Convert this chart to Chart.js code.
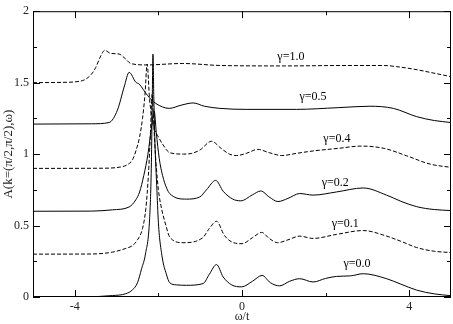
<!DOCTYPE html>
<html>
<head>
<meta charset="utf-8">
<script src="https://cdn.jsdelivr.net/npm/chart.js@4.4.1/dist/chart.umd.min.js"></script>
<style>
  body { margin: 0; background: #fff; }
</style>
</head>
<body>
<canvas id="spec" width="453" height="324"></canvas>
<script>
// omega/t samples and A(k,omega), one pair per gamma
let w00 = [-5, -3.8, -3.1, -2.78, -2.62, -2.5, -2.4, -2.31, -2.21, -2.17, -2.15, -2.13, -2.11, -2.08, -2.04, -2.0, -1.91, -1.81, -1.73, -1.57, -1.33, -0.93, -0.78, -0.61, -0.45, -0.25, -0.01, 0.25, 0.48, 0.68, 0.9, 1.14, 1.38, 1.7, 2.0, 2.26, 2.6, 2.9, 3.46, 3.8, 4.18, 4.6, 5];
let a00 = [0, 0.001, 0.01, 0.023, 0.05, 0.1, 0.2, 0.3, 0.55, 0.9, 1.3, 1.70, 1.4, 1.05, 0.78, 0.52, 0.28, 0.16, 0.10, 0.085, 0.082, 0.094, 0.16, 0.227, 0.14, 0.085, 0.071, 0.11, 0.151, 0.1, 0.078, 0.11, 0.128, 0.105, 0.13, 0.144, 0.148, 0.163, 0.128, 0.09, 0.048, 0.022, 0.009];

let w01 = [-5, -3.6, -3.1, -2.78, -2.62, -2.5, -2.38, -2.3, -2.24, -2.19, -2.15, -2.11, -2.06, -2.0, -1.94, -1.82, -1.73, -1.41, -0.94, -0.78, -0.61, -0.42, -0.2, 0.0, 0.25, 0.47, 0.65, 0.85, 1.1, 1.38, 1.7, 2.26, 2.9, 3.46, 3.8, 4.18, 4.6, 5];
let a01 = [0.3, 0.301, 0.314, 0.34, 0.36, 0.40, 0.48, 0.62, 0.85, 1.15, 1.42, 1.2, 0.95, 0.75, 0.64, 0.5, 0.42, 0.38, 0.415, 0.48, 0.53, 0.43, 0.38, 0.373, 0.415, 0.452, 0.41, 0.38, 0.4, 0.426, 0.41, 0.438, 0.465, 0.426, 0.39, 0.346, 0.32, 0.311];

let w02 = [-5, -3.6, -3.1, -2.7, -2.54, -2.45, -2.35, -2.25, -2.16, -2.1, -2.05, -1.98, -1.9, -1.8, -1.73, -1.33, -1.01, -0.85, -0.63, -0.45, -0.22, -0.03, 0.25, 0.45, 0.65, 0.86, 1.1, 1.38, 1.7, 2.26, 2.9, 3.46, 3.8, 4.18, 4.6, 5];
let a02 = [0.6, 0.601, 0.61, 0.63, 0.68, 0.735, 0.85, 1.0, 1.2, 1.3, 1.15, 0.97, 0.85, 0.76, 0.724, 0.685, 0.70, 0.75, 0.816, 0.74, 0.685, 0.673, 0.715, 0.742, 0.7, 0.668, 0.69, 0.724, 0.713, 0.735, 0.763, 0.713, 0.67, 0.632, 0.612, 0.605];

let w04 = [-5, -3.4, -2.9, -2.72, -2.62, -2.53, -2.45, -2.38, -2.32, -2.27, -2.21, -2.12, -2.0, -1.9, -1.73, -1.4, -1.2, -1.0, -0.73, -0.5, -0.3, -0.13, 0.1, 0.38, 0.65, 0.95, 1.3, 1.7, 2.3, 2.85, 3.4, 3.94, 4.5, 5];
let a04 = [0.9, 0.901, 0.91, 0.93, 0.96, 1.03, 1.12, 1.25, 1.42, 1.63, 1.38, 1.2, 1.12, 1.07, 1.01, 1.0, 1.005, 1.03, 1.09, 1.04, 1.0, 0.99, 1.005, 1.033, 1.01, 0.99, 1.005, 1.022, 1.04, 1.056, 1.04, 0.988, 0.93, 0.907];

let w05 = [-5, -3.6, -3.18, -2.98, -2.82, -2.7, -2.54, -2.46, -2.26, -2.06, -1.74, -1.46, -1.17, -0.9, -0.53, 0.1, 1.3, 2.3, 3.06, 3.62, 4.18, 4.6, 5];
let a05 = [1.21, 1.212, 1.221, 1.308, 1.469, 1.572, 1.503, 1.49, 1.41, 1.354, 1.32, 1.342, 1.358, 1.335, 1.32, 1.313, 1.313, 1.325, 1.335, 1.32, 1.262, 1.235, 1.221];

let w10 = [-5, -4.3, -3.82, -3.6, -3.5, -3.38, -3.28, -3.15, -2.94, -2.8, -2.66, -2.3, -1.42, -0.5, 1.0, 2.5, 3.4, 3.7, 4.1, 4.5, 5];
let a10 = [1.5, 1.502, 1.514, 1.56, 1.606, 1.686, 1.727, 1.705, 1.70, 1.67, 1.634, 1.624, 1.634, 1.62, 1.617, 1.62, 1.62, 1.612, 1.595, 1.572, 1.542];

let xTicks = [-4, 0, 4];
let xMinor = [-2, 2];
let yTicks = [0, 0.5, 1, 1.5, 2];
let yMinor = [0.25, 0.75, 1.25, 1.75];

// curve captions, placed in data units
let capText = ['γ=1.0', 'γ=0.5', 'γ=0.4', 'γ=0.2', 'γ=0.1', 'γ=0.0'];
let capX = [1.17, 1.70, 2.27, 2.23, 2.47, 2.75];
let capY = [1.68, 1.40, 1.11, 0.80, 0.515, 0.23];

const serif = '"Liberation Serif", "DejaVu Serif", serif';

function pts(w, a) {
    return w.map((v, i) => ({x: v, y: a[i]}));
}

function curve(w, a, dashed) {
    return {
        data: pts(w, a),
        borderColor: '#000',
        borderWidth: 1,
        borderDash: dashed ? [4, 2] : [],
        pointRadius: 0,
        fill: false,
        cubicInterpolationMode: 'monotone'
    };
}

// frame with inward ticks on all four sides + captions
const frame = {
    id: 'frame',
    afterDatasetsDraw(chart) {
        const {ctx, chartArea: a, scales: {x, y}} = chart;
        ctx.save();
        ctx.strokeStyle = '#000';
        ctx.lineWidth = 1;
        ctx.setLineDash([]);
        ctx.strokeRect(a.left + 0.5, a.top + 0.5, a.right - a.left - 1, a.bottom - a.top - 1);
        ctx.beginPath();
        const xt = (v, len) => {
            const px = Math.round(x.getPixelForValue(v)) + 0.5;
            ctx.moveTo(px, a.bottom); ctx.lineTo(px, a.bottom - len);
            ctx.moveTo(px, a.top); ctx.lineTo(px, a.top + len);
        };
        const yt = (v, len) => {
            const py = Math.round(y.getPixelForValue(v)) + 0.5;
            ctx.moveTo(a.left, py); ctx.lineTo(a.left + len, py);
            ctx.moveTo(a.right, py); ctx.lineTo(a.right - len, py);
        };
        xTicks.forEach(v => xt(v, 7));
        xMinor.forEach(v => xt(v, 4));
        yTicks.forEach(v => yt(v, 7));
        yMinor.forEach(v => yt(v, 4));
        ctx.stroke();

        ctx.fillStyle = '#000';
        ctx.font = '12px ' + serif;
        ctx.textAlign = 'center';
        ctx.textBaseline = 'middle';
        capText.forEach((t, i) => {
            ctx.fillText(t, x.getPixelForValue(capX[i]), y.getPixelForValue(capY[i]));
        });
        ctx.restore();
    }
};

new Chart(document.getElementById('spec'), {
    type: 'line',
    data: {
        datasets: [
            curve(w00, a00, false),
            curve(w01, a01, true),
            curve(w02, a02, false),
            curve(w04, a04, true),
            curve(w05, a05, false),
            curve(w10, a10, true)
        ]
    },
    options: {
        responsive: false,
        animation: false,
        layout: { padding: { top: 6, right: 2, left: 0, bottom: 0 } },
        plugins: { legend: { display: false }, tooltip: { enabled: false } },
        scales: {
            x: {
                type: 'linear',
                min: -5,
                max: 5,
                grid: { display: false, drawTicks: false },
                border: { display: false },
                afterBuildTicks: s => { s.ticks = xTicks.map(v => ({value: v})); },
                afterFit: s => { s.height = 27; },
                ticks: {
                    padding: 3,
                    color: '#222',
                    font: { family: serif, size: 12 },
                    maxRotation: 0,
                    callback: v => String(v)
                },
                title: {
                    display: true,
                    text: 'ω/t',
                    color: '#222',
                    font: { family: serif, size: 12 },
                    padding: { top: 0, bottom: 0 }
                }
            },
            y: {
                type: 'linear',
                min: 0,
                max: 2,
                grid: { display: false, drawTicks: false },
                border: { display: false },
                afterBuildTicks: s => { s.ticks = yTicks.map(v => ({value: v})); },
                afterFit: s => { s.width = 33; },
                ticks: {
                    padding: 4,
                    color: '#222',
                    font: { family: serif, size: 12 },
                    callback: v => String(v)
                },
                title: {
                    display: true,
                    text: 'A(k=(π/2,π/2),ω)',
                    color: '#222',
                    font: { family: serif, size: 13 },
                    padding: { top: 1, bottom: 0 }
                }
            }
        }
    },
    plugins: [frame]
});
</script>
</body>
</html>
